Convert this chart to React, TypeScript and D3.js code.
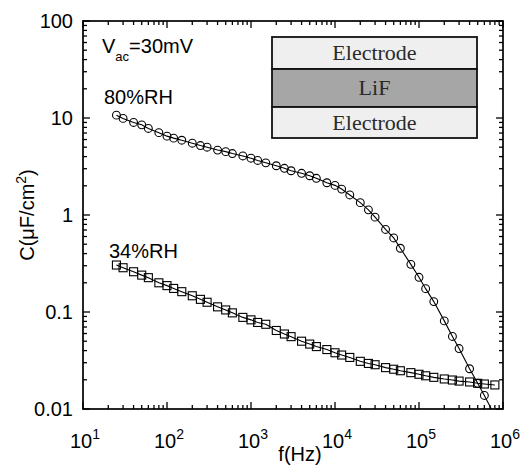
import React from "react";
import * as d3 from "d3";

const freqs = [25, 30, 40, 50, 60, 80, 100, 120, 150, 200, 250, 300, 400, 500, 600, 800, 1000, 1200, 1500, 2000, 2500, 3000, 4000, 5000, 6000, 8000, 10000, 12000, 15000, 20000, 25000, 30000, 40000, 50000, 60000, 80000, 100000, 120000, 150000, 200000, 250000, 300000, 400000, 500000, 600000, 800000];
const c80 = [10.7, 9.9, 9.0, 8.5, 7.8, 7.06, 6.5, 6.2, 5.9, 5.5, 5.2, 5.0, 4.67, 4.5, 4.3, 4.06, 3.85, 3.65, 3.45, 3.22, 3.03, 2.86, 2.69, 2.54, 2.39, 2.15, 2.02, 1.85, 1.61, 1.34, 1.13, 0.95, 0.71, 0.58, 0.454, 0.31, 0.228, 0.174, 0.128, 0.081, 0.056, 0.042, 0.026, 0.0184, 0.0138, 0.0085];
const c34 = [0.305, 0.286, 0.26, 0.24, 0.226, 0.2, 0.187, 0.175, 0.162, 0.147, 0.135, 0.126, 0.113, 0.105, 0.098, 0.088, 0.083, 0.078, 0.0747, 0.0645, 0.0593, 0.0557, 0.05, 0.0467, 0.044, 0.041, 0.038, 0.036, 0.034, 0.031, 0.0295, 0.0286, 0.0267, 0.0257, 0.0248, 0.0237, 0.0228, 0.022, 0.0212, 0.0204, 0.0199, 0.0194, 0.019, 0.0184, 0.0181, 0.0177];
const xExps = [1, 2, 3, 4, 5, 6];
const yLabels = ["0.01", "0.1", "1", "10", "100"];
const yVals = [0.01, 0.1, 1, 10, 100];
const layers = ["Electrode", "LiF", "Electrode"];
const layerFills = ["#efefef", "#a6a6a6", "#efefef"];

const W = 521, H = 465;
const L = 83, R = 503, T = 21, B = 409;
const font = "'Liberation Sans', Arial, sans-serif";

export default function App() {
  const x = d3.scaleLog().domain([10, 1e6]).range([L, R]);
  const y = d3.scaleLog().domain([0.01, 100]).range([B, T]);
  const line = d3.line<[number, number]>().x(d => x(d[0])).y(d => y(d[1]));
  const d80 = freqs.map((f, i) => [f, c80[i]] as [number, number]);
  const d34 = freqs.map((f, i) => [f, c34[i]] as [number, number]);

  const xMinor: number[] = [];
  for (let e = 1; e < 6; e++) for (let k = 2; k <= 9; k++) xMinor.push(k * Math.pow(10, e));
  const yMinor: number[] = [];
  for (let e = -2; e < 2; e++) for (let k = 2; k <= 9; k++) yMinor.push(k * Math.pow(10, e));
  const xMajor = xExps.map(e => Math.pow(10, e));

  const MJ = 7, MN = 4;
  const sq = 8;

  const ix0 = 272, ix1 = 477, iy = [37, 69, 107, 138];

  return (
    <svg width={W} height={H} style={{ position: "absolute", left: 0, top: 0, background: "#fff" }}>
      <defs>
        <clipPath id="plotclip">
          <rect x={L} y={T} width={R - L} height={B - T} />
        </clipPath>
      </defs>
      <rect x={0} y={0} width={W} height={H} fill="#fff" />
      <g stroke="#000" strokeWidth={1.3}>
        {xMajor.map((v, i) => (
          <g key={"xm" + i}>
            <line x1={x(v)} x2={x(v)} y1={B} y2={B - MJ} />
            <line x1={x(v)} x2={x(v)} y1={T} y2={T + MJ} />
          </g>
        ))}
        {xMinor.map((v, i) => (
          <g key={"xn" + i}>
            <line x1={x(v)} x2={x(v)} y1={B} y2={B - MN} />
            <line x1={x(v)} x2={x(v)} y1={T} y2={T + MN} />
          </g>
        ))}
        {yVals.map((v, i) => (
          <g key={"ym" + i}>
            <line x1={L} x2={L + MJ} y1={y(v)} y2={y(v)} />
            <line x1={R} x2={R - MJ} y1={y(v)} y2={y(v)} />
          </g>
        ))}
        {yMinor.map((v, i) => (
          <g key={"yn" + i}>
            <line x1={L} x2={L + MN} y1={y(v)} y2={y(v)} />
            <line x1={R} x2={R - MN} y1={y(v)} y2={y(v)} />
          </g>
        ))}
      </g>
      {layers.map((t, i) => (
        <g key={"ly" + i}>
          <rect x={ix0} y={iy[i]} width={ix1 - ix0} height={iy[i + 1] - iy[i]} fill={layerFills[i]} stroke="#111" strokeWidth={1.8} />
          <text x={(ix0 + ix1) / 2} y={(iy[i] + iy[i + 1]) / 2 + 7} textAnchor="middle" fontFamily="'Liberation Serif', 'Times New Roman', serif" fontSize={22} fill="#2a2a2a">{t}</text>
        </g>
      ))}
      <g clipPath="url(#plotclip)">
        <path d={line(d34) || ""} fill="none" stroke="#000" strokeWidth={1.1} />
        <path d={line(d80) || ""} fill="none" stroke="#000" strokeWidth={1.1} />
        {d34.map((d, i) => (
          <rect key={"s" + i} x={x(d[0]) - sq / 2} y={y(d[1]) - sq / 2} width={sq} height={sq} fill="none" stroke="#000" strokeWidth={1.1} />
        ))}
        {d80.map((d, i) => (
          <circle key={"c" + i} cx={x(d[0])} cy={y(d[1])} r={3.9} fill="none" stroke="#000" strokeWidth={1.1} />
        ))}
      </g>
      <rect x={L} y={T} width={R - L} height={B - T} fill="none" stroke="#000" strokeWidth={1.7} />
      {yVals.map((v, i) => (
        <text key={"yl" + i} x={73} y={y(v) + 7} textAnchor="end" fontFamily={font} fontSize={20} fill="#000">{yLabels[i]}</text>
      ))}
      {xExps.map((e, i) => (
        <text key={"xl" + i} x={x(Math.pow(10, e)) + 2} y={448} textAnchor="middle" fontFamily={font} fontSize={20} fill="#000">
          10<tspan dy={-9} fontSize={14}>{e}</tspan>
        </text>
      ))}
      <text x={300} y={461} textAnchor="middle" fontFamily={font} fontSize={20} fill="#000">f(Hz)</text>
      <text transform={`translate(34,215) rotate(-90)`} textAnchor="middle" fontFamily={font} fontSize={20} fill="#000">
        C(μF/cm<tspan dy={-8} fontSize={14}>2</tspan><tspan dy={8}>)</tspan>
      </text>
      <text x={102} y={53} fontFamily={font} fontSize={20} fill="#000">
        V<tspan dy={8} fontSize={13}>ac</tspan><tspan dy={-8}>=30mV</tspan>
      </text>
      <text x={104} y={104} fontFamily={font} fontSize={20} fill="#000">80%RH</text>
      <text x={109} y={258} fontFamily={font} fontSize={20} fill="#000">34%RH</text>
    </svg>
  );
}
